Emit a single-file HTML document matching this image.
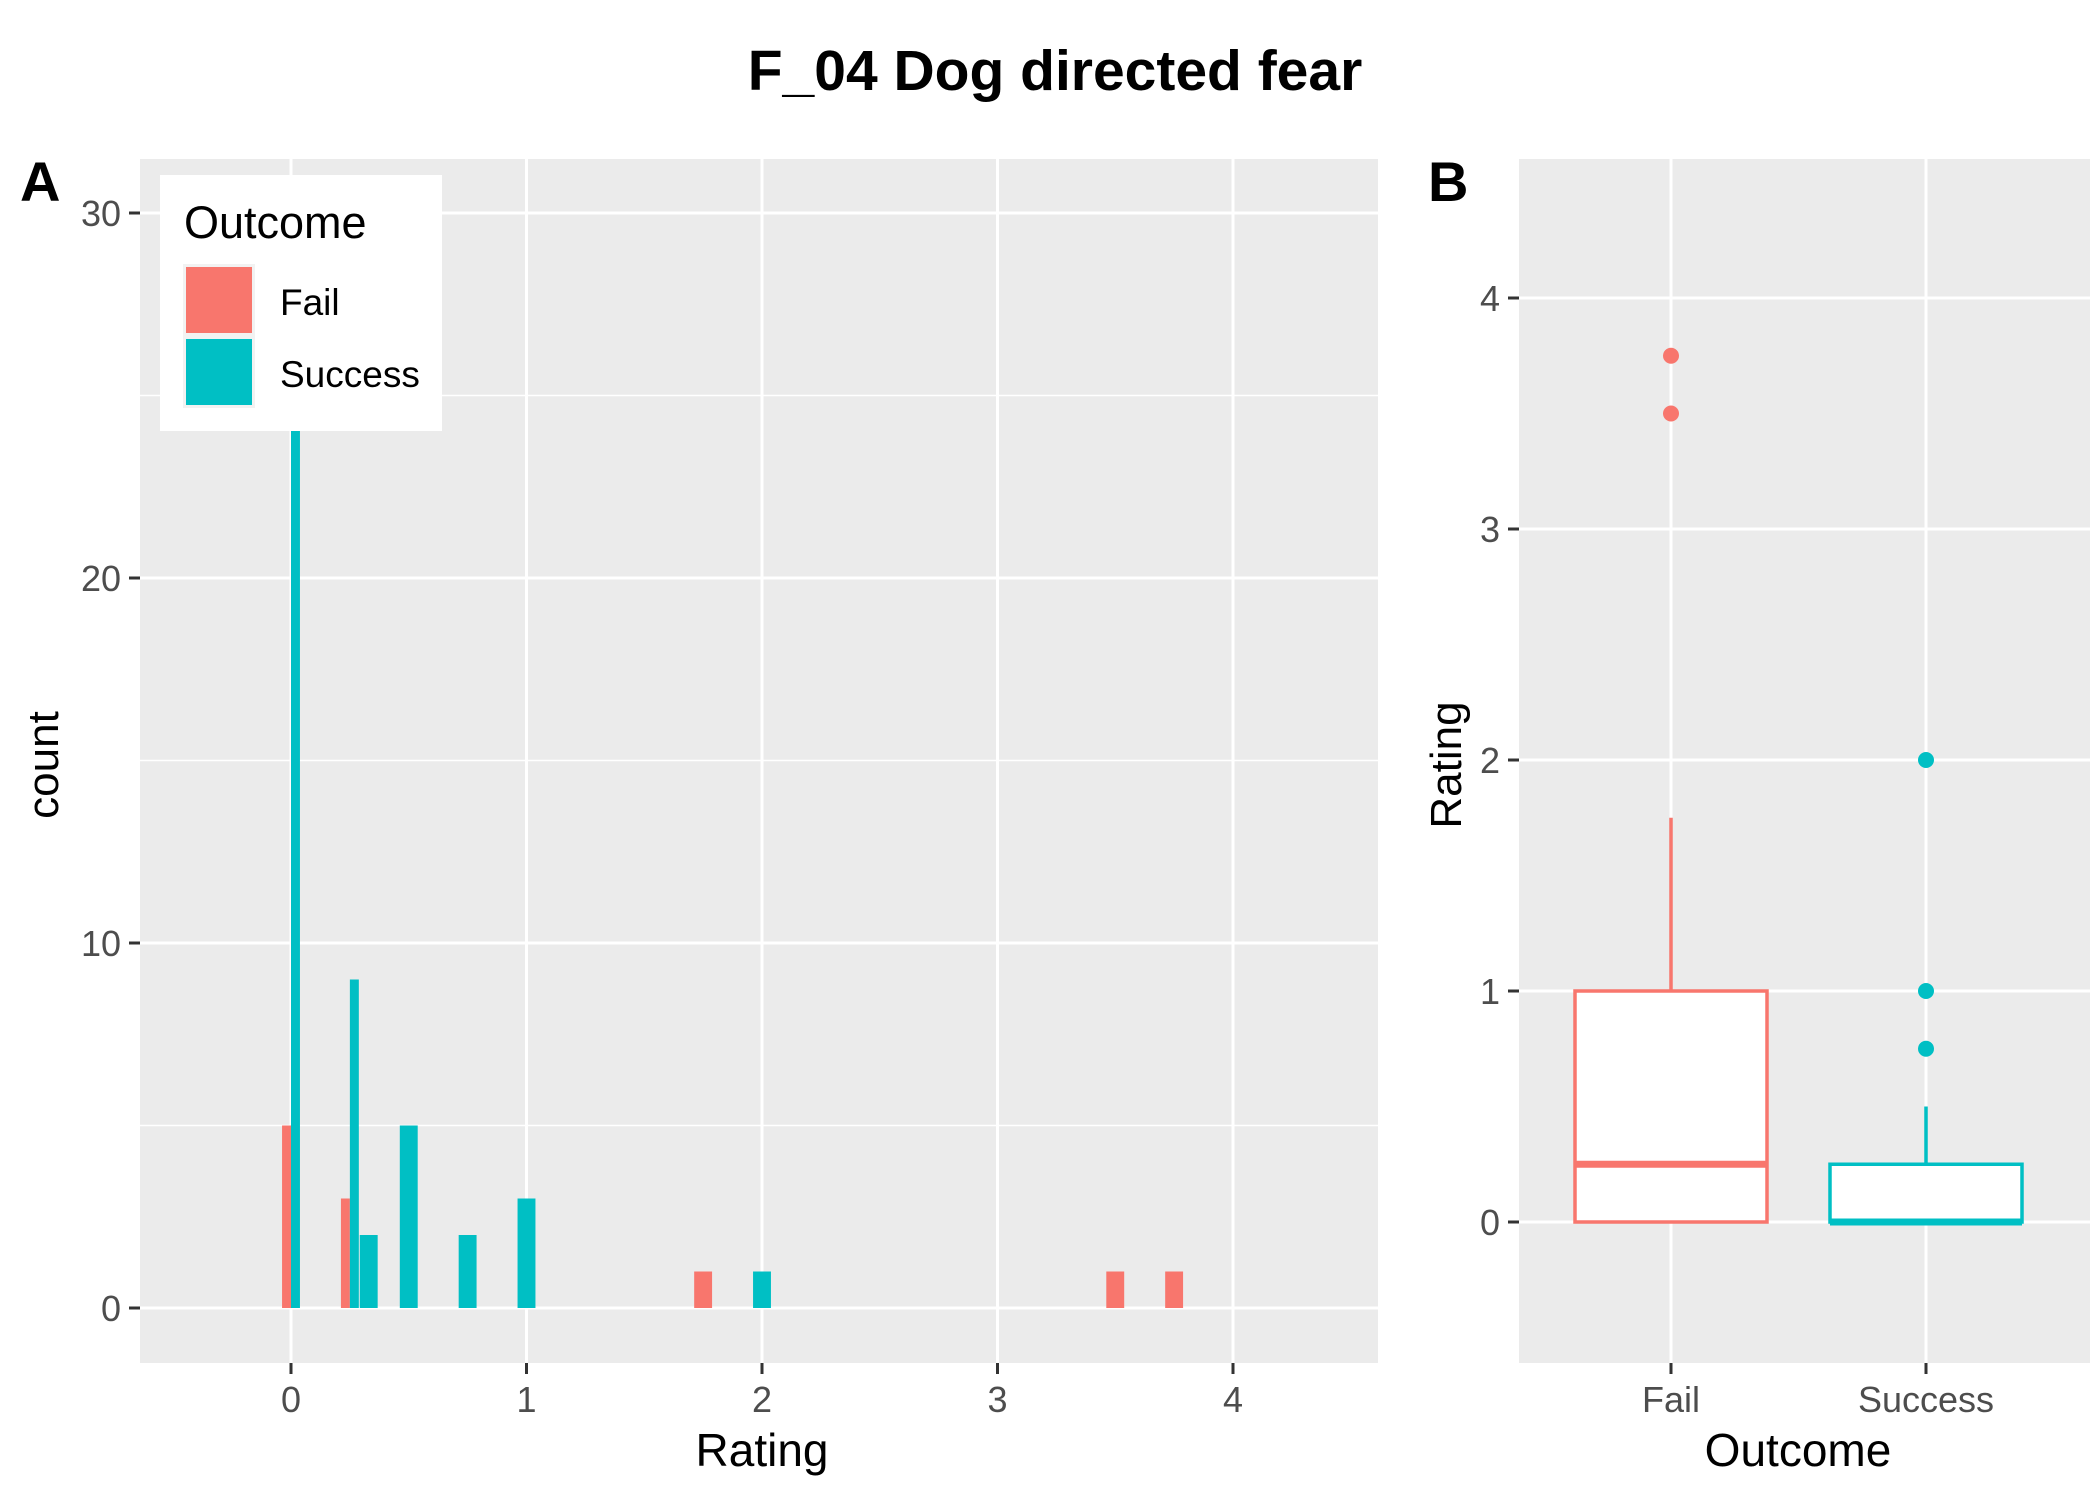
<!DOCTYPE html>
<html><head><meta charset="utf-8"><style>
html,body{margin:0;padding:0;background:#fff;}
svg{display:block;font-family:"Liberation Sans",Arial,sans-serif;}
</style></head><body>
<svg id="chart" width="2100" height="1499" viewBox="0 0 2100 1499" xmlns="http://www.w3.org/2000/svg">
<rect x="0" y="0" width="2100" height="1499" fill="#fff"/>
<text x="1055" y="90" text-anchor="middle" font-size="57" font-weight="bold">F_04 Dog directed fear</text>
<text x="20" y="201" font-size="56" font-weight="bold">A</text>
<text x="1428" y="201" font-size="56" font-weight="bold">B</text>
<g id="pa"></g>
<g id="pb"></g>
</svg>
<script>
// Panel A data (histogram, dodged)
const ratingBins = [0, 0.25, 0.33, 0.5, 0.75, 1, 1.75, 2, 3.5, 3.75];
const failCounts = [5, 3, 0, 0, 0, 0, 1, 0, 1, 1];
const successCounts = [30, 9, 2, 5, 2, 3, 0, 1, 0, 0];
const xTicksA = [0, 1, 2, 3, 4];
const yTicksA = [0, 10, 20, 30];
const yMinorA = [5, 15, 25];
// Panel B data (boxplot)
const groups = ["Fail", "Success"];
const boxLower = [0, 0];
const boxMedian = [0.25, 0];
const boxUpper = [1, 0.25];
const whiskerLow = [0, 0];
const whiskerHigh = [1.75, 0.5];
const outliersFail = [3.5, 3.75];
const outliersSuccess = [0.75, 1, 2];
const yTicksB = [0, 1, 2, 3, 4];

const NS = "http://www.w3.org/2000/svg";
function el(parent, tag, attrs, text) {
  const e = document.createElementNS(NS, tag);
  for (const k in attrs) e.setAttribute(k, attrs[k]);
  if (text !== undefined) e.textContent = text;
  parent.appendChild(e);
  return e;
}
const FAIL = "#F8766D", SUCC = "#00BFC4";

// ---------- Panel A ----------
const pa = document.getElementById("pa");
const A = {l: 140, r: 1378, t: 159, b: 1363};
const UA = 235.5;
const xA = v => 291 + v * UA;
const yA = v => 1308 - v * 36.5;
let bg = el(pa, "rect", {x: A.l, y: A.t, width: A.r - A.l, height: A.b - A.t, fill: "#EBEBEB"});


yMinorA.forEach(v => {
  const g = el(pa, "line", {x1: A.l, x2: A.r, y1: yA(v), y2: yA(v), stroke: "#fff", "stroke-width": 1.5});
  
  
});
yTicksA.forEach(v => {
  const g = el(pa, "line", {x1: A.l, x2: A.r, y1: yA(v), y2: yA(v), stroke: "#fff", "stroke-width": 3});
  
  
  const t = el(pa, "line", {x1: A.l - 11, x2: A.l, y1: yA(v), y2: yA(v), stroke: "#333", "stroke-width": 3});
  
  
  const lb = el(pa, "text", {x: A.l - 19, y: yA(v) + 13, "text-anchor": "end", "font-size": 36, fill: "#4D4D4D"}, String(v));
  
  
});
xTicksA.forEach(v => {
  const g = el(pa, "line", {x1: xA(v), x2: xA(v), y1: A.t, y2: A.b, stroke: "#fff", "stroke-width": 3});
  
  
  const t = el(pa, "line", {x1: xA(v), x2: xA(v), y1: A.b, y2: A.b + 11, stroke: "#333", "stroke-width": 3});
  
  
  const lb = el(pa, "text", {x: xA(v), y: 1412, "text-anchor": "middle", "font-size": 36, fill: "#4D4D4D"}, String(v));
  
  
});
const BW = 0.076;
ratingBins.forEach((r, i) => {
  const f = failCounts[i], s = successCounts[i];
  const both = f > 0 && s > 0;
  if (f > 0) {
    const x0 = xA(r - BW / 2);
    const w = both ? BW / 2 * UA : BW * UA;
    const b = el(pa, "rect", {x: x0, y: yA(f), width: w, height: yA(0) - yA(f), fill: FAIL});
    
    
  }
  if (s > 0) {
    const x0 = both ? xA(r) : xA(r - BW / 2);
    const w = both ? BW / 2 * UA : BW * UA;
    const b = el(pa, "rect", {x: x0, y: yA(s), width: w, height: yA(0) - yA(s), fill: SUCC});
    
    
  }
});
// legend
const lg = el(pa, "g", {});


el(lg, "rect", {x: 160, y: 175, width: 282, height: 256, fill: "#fff"});
const lt = el(lg, "text", {x: 184, y: 238, "font-size": 45}, "Outcome");


el(lg, "rect", {x: 183, y: 264, width: 72, height: 144, fill: "#F2F2F2"});
const k1 = el(lg, "rect", {x: 186, y: 267, width: 66, height: 66, fill: FAIL});


const k2 = el(lg, "rect", {x: 186, y: 339, width: 66, height: 66, fill: SUCC});


const l1 = el(lg, "text", {x: 280, y: 315, "font-size": 37}, "Fail");


const l2 = el(lg, "text", {x: 280, y: 387, "font-size": 37}, "Success");


const xtA = el(pa, "text", {x: 762, y: 1466, "text-anchor": "middle", "font-size": 46}, "Rating");


const ytA = el(pa, "text", {x: 0, y: 0, "text-anchor": "middle", "font-size": 44, transform: "translate(58,765) rotate(-90)"}, "count");



// ---------- Panel B ----------
const pb = document.getElementById("pb");
const B = {l: 1519, r: 2090, t: 159, b: 1363};
const xB = i => [1671, 1926][i];
const yB = v => 1222 - v * 231;
const bgb = el(pb, "rect", {x: B.l, y: B.t, width: B.r - B.l, height: B.b - B.t, fill: "#EBEBEB"});


yTicksB.forEach(v => {
  const g = el(pb, "line", {x1: B.l, x2: B.r, y1: yB(v), y2: yB(v), stroke: "#fff", "stroke-width": 3});
  
  
  const t = el(pb, "line", {x1: B.l - 11, x2: B.l, y1: yB(v), y2: yB(v), stroke: "#333", "stroke-width": 3});
  
  
  const lb = el(pb, "text", {x: B.l - 19, y: yB(v) + 13, "text-anchor": "end", "font-size": 36, fill: "#4D4D4D"}, String(v));
  
  
});
groups.forEach((g, i) => {
  const gl = el(pb, "line", {x1: xB(i), x2: xB(i), y1: B.t, y2: B.b, stroke: "#fff", "stroke-width": 3});
  
  
  const t = el(pb, "line", {x1: xB(i), x2: xB(i), y1: B.b, y2: B.b + 11, stroke: "#333", "stroke-width": 3});
  
  
  const lb = el(pb, "text", {x: xB(i), y: 1412, "text-anchor": "middle", "font-size": 36, fill: "#4D4D4D"}, g);
  
  
});
const outs = [outliersFail, outliersSuccess];
groups.forEach((g, i) => {
  const c = i === 0 ? FAIL : SUCC;
  const cx = xB(i), hw = 96;
  const wh = el(pb, "line", {x1: cx, x2: cx, y1: yB(whiskerHigh[i]), y2: yB(boxUpper[i]), stroke: c, "stroke-width": 3.5});
  
  
  const bx = el(pb, "rect", {x: cx - hw, y: yB(boxUpper[i]), width: 2 * hw, height: yB(boxLower[i]) - yB(boxUpper[i]), fill: "#fff", stroke: c, "stroke-width": 3.5});
  
  
  const md = el(pb, "line", {x1: cx - hw, x2: cx + hw, y1: yB(boxMedian[i]), y2: yB(boxMedian[i]), stroke: c, "stroke-width": 7});
  
  
  outs[i].forEach(v => {
    const p = el(pb, "circle", {cx: cx, cy: yB(v), r: 8, fill: c});
    
    
  });
});
const xtB = el(pb, "text", {x: 1798, y: 1466, "text-anchor": "middle", "font-size": 46}, "Outcome");


const ytB = el(pb, "text", {x: 0, y: 0, "text-anchor": "middle", "font-size": 44, transform: "translate(1461,765) rotate(-90)"}, "Rating");


</script>
</body></html>
